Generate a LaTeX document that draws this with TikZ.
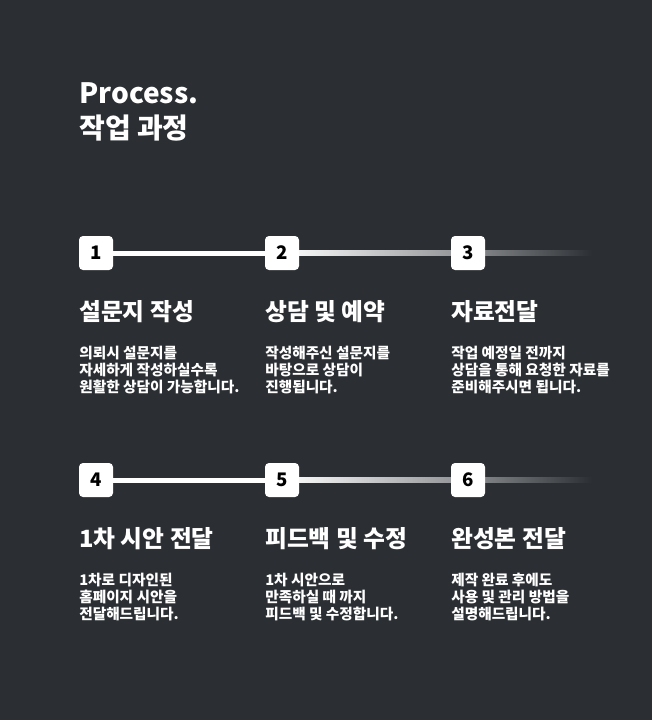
\documentclass[tikz,border=0pt]{standalone}
\usepackage{fontspec}
\setmainfont{Noto Sans CJK KR}
\definecolor{BgDark}{RGB}{43, 47, 51}
\definecolor{LineGray}{RGB}{140, 142, 145}
\usetikzlibrary{positioning}

\begin{document}
\begin{tikzpicture}[x=0.75pt, y=-0.75pt,
        numbox/.style={rectangle, fill=white, rounded corners=3pt, minimum size=25.5pt, inner sep=0pt, font=\fontsize{14}{14}\selectfont\bfseries, text=black},
        heading/.style={anchor=west, inner sep=0pt, font=\fontsize{17.8}{20}\selectfont\bfseries, text=white},
        body/.style={anchor=north west, inner sep=0pt, align=left, font=\fontsize{11}{12.75}\selectfont\bfseries, text=white}
    ]
        \fill[BgDark] (0,0) rectangle (652,720);
        \node[anchor=west, inner sep=0pt, align=left, text=white, font=\fontsize{21}{26}\selectfont\bfseries] (title) at (79,112) {Process.\\작업 과정};
        % two rows of three steps
        \foreach \row/\yy in {0/253, 1/480} {
            \fill[white] (96,\yy-2.5) rectangle (282,\yy+2.5);
            \shade[left color=white, right color=LineGray] (282,\yy-2.5) rectangle (468,\yy+2.5);
            \shade[left color=LineGray, right color=BgDark] (468,\yy-2.5) rectangle (592,\yy+2.5);
        }
        \foreach \n/\xx/\yy in {1/96/253, 2/282/253, 3/468/253, 4/96/480, 5/282/480, 6/468/480}
            \node[numbox] (box\n) at (\xx,\yy) {\n};
        \node[heading] (head1) at (79,312) {설문지 작성};
        \node[heading] (head2) at (265,312) {상담 및 예약};
        \node[heading] (head3) at (451,312) {자료전달};
        \node[heading] (head4) at (79,539) {1차 시안 전달};
        \node[heading] (head5) at (265,539) {피드백 및 수정};
        \node[heading] (head6) at (451,539) {완성본 전달};
        \node[body] (text1) at (79,346) {의뢰시 설문지를\\자세하게 작성하실수록\\원활한 상담이 가능합니다.};
        \node[body] (text2) at (265,346) {작성해주신 설문지를\\바탕으로 상담이\\진행됩니다.};
        \node[body] (text3) at (451,346) {작업 예정일 전까지\\상담을 통해 요청한 자료를\\준비해주시면 됩니다.};
        \node[body] (text4) at (79,573) {1차로 디자인된\\홈페이지 시안을\\전달해드립니다.};
        \node[body] (text5) at (265,573) {1차 시안으로\\만족하실 때 까지\\피드백 및 수정합니다.};
        \node[body] (text6) at (451,573) {제작 완료 후에도\\사용 및 관리 방법을\\설명해드립니다.};
    \end{tikzpicture}
\end{document}
